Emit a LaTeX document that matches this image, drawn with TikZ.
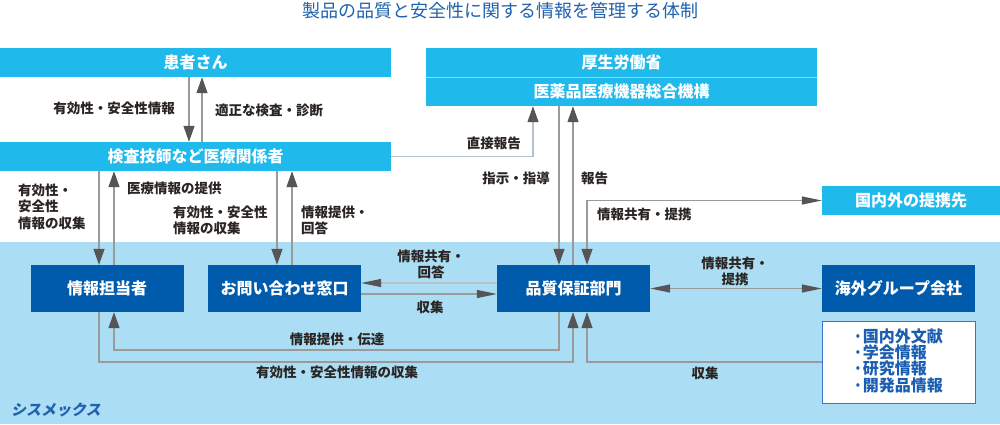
\documentclass[tikz,border=0pt]{standalone}
\usepackage{fontspec}
\setmainfont{Noto Sans CJK JP}
\newfontfamily\sysfont[FakeSlant=0.2]{Noto Sans CJK JP}
\usetikzlibrary{arrows.meta}
\definecolor{cyanbox}{HTML}{1FB9EC}
\definecolor{cyansep}{HTML}{8ED9F6}
\definecolor{navy}{HTML}{005BAC}
\definecolor{bgblue}{HTML}{ABDDF5}
\definecolor{titleblue}{HTML}{1F62AE}
\definecolor{listblue}{HTML}{1B5DB0}
\definecolor{listborder}{HTML}{3A74C4}
\definecolor{linegray}{HTML}{9A9A9A}
\definecolor{lightline}{HTML}{B4C2CC}
\definecolor{headgray}{HTML}{555555}
\definecolor{txt}{HTML}{2A2522}
\tikzset{
  cbox/.style={fill=cyanbox, text=white, inner sep=0pt, font=\fontsize{16}{19}\selectfont\bfseries},
  nbox/.style={fill=navy, text=white, inner sep=0pt, minimum width=153pt, minimum height=47pt, font=\fontsize{16}{19}\selectfont\bfseries},
  lbl/.style={text=txt, inner sep=0pt, font=\fontsize{13.5}{16.5}\selectfont\bfseries},
  conn/.style={draw=linegray, line width=1.2pt},
  vhead/.style={-{Triangle[length=16pt,width=11pt,color=headgray]}},
  hhead/.style={-{Triangle[length=20pt,width=8pt,color=headgray]}},
  hboth/.style={{Triangle[length=20pt,width=8pt,color=headgray]}-{Triangle[length=20pt,width=8pt,color=headgray]}},
  vhboth/.style={{Triangle[length=16pt,width=11pt,color=headgray]}-{Triangle[length=20pt,width=8pt,color=headgray]}}
}
\begin{document}
\begin{tikzpicture}[x=1pt,y=-1pt]
\useasboundingbox (0,0) rectangle (1000,424);
\fill[white] (0,0) rectangle (1000,424);
\fill[bgblue] (0,242) rectangle (1000,424);

% title
\node[text=titleblue, inner sep=0pt, font=\fontsize{18}{20}\selectfont] (title) at (500,11) {製品の品質と安全性に関する情報を管理する体制};

% column / row coordinates
\coordinate (a99) at (99,0);
\coordinate (a114) at (114,0);
\coordinate (a189) at (189,0);
\coordinate (a202) at (202,0);
\coordinate (a277) at (277,0);
\coordinate (a292) at (292,0);
\coordinate (a533) at (533,0);
\coordinate (a559) at (559,0);
\coordinate (a573) at (573,0);
\coordinate (a587) at (587,0);
\coordinate (r283) at (0,283);
\coordinate (r294) at (0,294);
\coordinate (r350) at (0,350);
\coordinate (r362) at (0,362);

% cyan boxes
\node[cbox, minimum width=391pt, minimum height=29.5pt] (patient) at (195.5,62.25) {患者さん};
\node[cbox, minimum width=391pt, minimum height=29.5pt] (mhlw) at (621.5,62.25) {厚生労働省};
\node[cbox, minimum width=391pt, minimum height=29pt] (pmda) at (621.5,91.5) {医薬品医療機器総合機構};
\draw[cyansep, line width=1.2pt] (mhlw.south west) -- (mhlw.south east);
\node[cbox, minimum width=391pt, minimum height=29pt] (kensa) at (195.5,156.5) {検査技師など医療関係者};
\node[cbox, minimum width=178pt, minimum height=29pt] (partner) at (911,200.5) {国内外の提携先};

% navy boxes
\node[nbox] (info) at (107,288.5) {情報担当者};
\node[nbox] (inq) at (284.5,288.5) {お問い合わせ窓口};
\node[nbox] (qa) at (573.5,288.5) {品質保証部門};
\node[nbox] (overseas) at (898.5,288.5) {海外グループ会社};

% literature box
\node[fill=white, draw=listborder, line width=1pt, minimum width=153pt, minimum height=82pt, inner sep=0pt] (lit) at (898.5,362) {};
\node[anchor=west, align=left, text=listblue, inner sep=0pt, font=\fontsize{16}{16.3}\selectfont\bfseries] (littext) at (853,360.5) {·国内外文献\\·学会情報\\·研究情報\\·開発品情報};

% connectors
\draw[conn, vhead] (patient.south -| a189) -- (kensa.north -| a189);
\draw[conn, vhead] (kensa.north -| a202) -- (patient.south -| a202);
\draw[conn, draw=lightline, vhead] (kensa.east) -- (kensa.east -| a533) -- (pmda.south -| a533);
\draw[conn, vhead] (pmda.south -| a559) -- (qa.north -| a559);
\draw[conn, vhead] (qa.north -| a573) -- (pmda.south -| a573);
\draw[conn, vhboth] (qa.north -| a587) -- (a587 |- partner.west) -- (partner.west);
\draw[conn, vhead] (kensa.south -| a99) -- (info.north -| a99);
\draw[conn, vhead] (info.north -| a114) -- (kensa.south -| a114);
\draw[conn, vhead] (kensa.south -| a277) -- (inq.north -| a277);
\draw[conn, vhead] (inq.north -| a292) -- (kensa.south -| a292);
\draw[conn, draw=lightline, hhead] (qa.west |- r283) -- (inq.east |- r283);
\draw[conn, hhead] (inq.east |- r294) -- (qa.west |- r294);
\draw[conn, hboth] (qa.east) -- (overseas.west);
\draw[conn, vhead] (qa.south -| a559) -- (a559 |- r350) -- (a114 |- r350) -- (info.south -| a114);
\draw[conn, vhead] (info.south -| a99) -- (a99 |- r362) -- (a573 |- r362) -- (qa.south -| a573);
\draw[conn, vhead] (lit.west |- r362) -- (a587 |- r362) -- (qa.south -| a587);

% labels
\node[lbl, anchor=east] (l1) at (175,108) {有効性・安全性情報};
\node[lbl, anchor=west] (l2) at (215,110) {適正な検査・診断};
\node[lbl, anchor=east] (l3) at (521,143) {直接報告};
\node[lbl, anchor=east] (l4) at (550,178) {指示・指導};
\node[lbl, anchor=west] (l5) at (581,178) {報告};
\node[lbl, anchor=west] (l6) at (597,214) {情報共有・提携};
\node[lbl, anchor=west, align=left] (l7) at (18,206.5) {有効性・\\安全性\\情報の収集};
\node[lbl, anchor=west] (l8) at (127,188) {医療情報の提供};
\node[lbl, anchor=west, align=left] (l9) at (173,220.5) {有効性・安全性\\情報の収集};
\node[lbl, anchor=west, align=left] (l10) at (301,220.5) {情報提供・\\回答};
\node[lbl, align=center] (l11) at (431,264.5) {情報共有・\\回答};
\node[lbl] (l12) at (430,307) {収集};
\node[lbl, align=center] (l13) at (735,271.5) {情報共有・\\提携};
\node[lbl] (l14) at (337,339) {情報提供・伝達};
\node[lbl] (l15) at (337,372) {有効性・安全性情報の収集};
\node[lbl] (l16) at (705,373) {収集};

% company label
\node[anchor=west, text=titleblue, inner sep=0pt, font=\sysfont\bfseries\fontsize{15}{17}\selectfont] (sysmex) at (11,410) {シスメックス};
\end{tikzpicture}
\end{document}
